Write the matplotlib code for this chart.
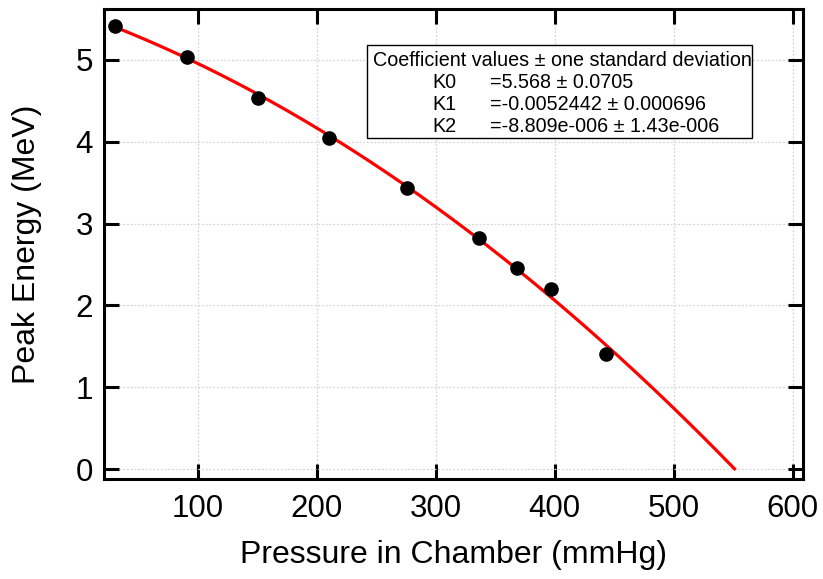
#!/usr/bin/env python3
"""Peak energy vs chamber pressure with quadratic fit."""

import matplotlib

matplotlib.use("Agg")
import matplotlib.pyplot as plt
import numpy as np
from matplotlib.patches import Rectangle

PRESSURE = [30.5, 90.8, 150.7, 210.4, 276.1, 336.4, 368.3, 396.9, 443.2]
ENERGY = [5.41, 5.03, 4.53, 4.05, 3.43, 2.82, 2.46, 2.20, 1.41]
K = [5.568, -0.0052442, -8.809e-06]
K_TEXT = ["=5.568 ± 0.0705", "=-0.0052442 ± 0.000696", "=-8.809e-006 ± 1.43e-006"]
FIT_RANGE = [30.5, 551.0]
X_TICKS = [100, 200, 300, 400, 500, 600]
Y_TICKS = [0, 1, 2, 3, 4, 5]

W, H = 823, 579


def fx(px):
    return px / W


def fy(py):
    return 1 - py / H


def main():
    plt.rcParams.update({"font.family": ["Liberation Sans", "DejaVu Sans"]})
    fig = plt.figure(figsize=(W / 100, H / 100), dpi=100)
    ax = fig.add_axes([fx(104), fy(479), fx(803) - fx(104), fy(9) - fy(479)])

    xs = np.linspace(FIT_RANGE[0], FIT_RANGE[1], 300)
    ys = K[0] + K[1] * xs + K[2] * xs ** 2
    ax.plot(xs, ys, color="#FF0000", linewidth=2.3, zorder=3)
    ax.plot(PRESSURE, ENERGY, "o", color="black", markersize=9.5, zorder=4)

    ax.set_xlim(21.3, 608.5)
    ax.set_ylim(-0.12, 5.62)
    ax.set_xticks(X_TICKS)
    ax.set_yticks(Y_TICKS)
    ax.grid(True, color="#D4D4D4", linestyle=(0, (1.5, 1.5)), linewidth=0.9)
    ax.set_axisbelow(True)
    for side in ax.spines.values():
        side.set_linewidth(2.2)
    ax.tick_params(direction="in", length=11, width=2.2, top=True, right=True,
                   labelsize=22.5, pad=8)
    ax.tick_params(axis="x", pad=11)
    ax.set_xlabel("Pressure in Chamber (mmHg)", fontsize=23, va="center")
    ax.set_ylabel("Peak Energy (MeV)", fontsize=23, va="center")
    ax.xaxis.set_label_coords(0.5, -0.162)
    ax.yaxis.set_label_coords(-0.110, 0.5)

    fig.patches.append(Rectangle((fx(367), fy(138)), fx(752) - fx(367), fy(45) - fy(138),
                                 transform=fig.transFigure, fill=True, facecolor="white",
                                 edgecolor="black", linewidth=1.0, zorder=5))
    fig.text(fx(373), fy(61), "Coefficient values ± one standard deviation",
             fontsize=14.2, va="center", ha="left", zorder=6)
    for i, txt in enumerate(K_TEXT):
        y = fy(83 + i * 21.5)
        fig.text(fx(432), y, f"K{i}", fontsize=14.2, va="center", ha="left", zorder=6)
        fig.text(fx(490), y, txt, fontsize=14.2, va="center", ha="left", zorder=6)

    fig.savefig("out.png", dpi=100, facecolor="white")
    plt.close(fig)


if __name__ == "__main__":
    main()
